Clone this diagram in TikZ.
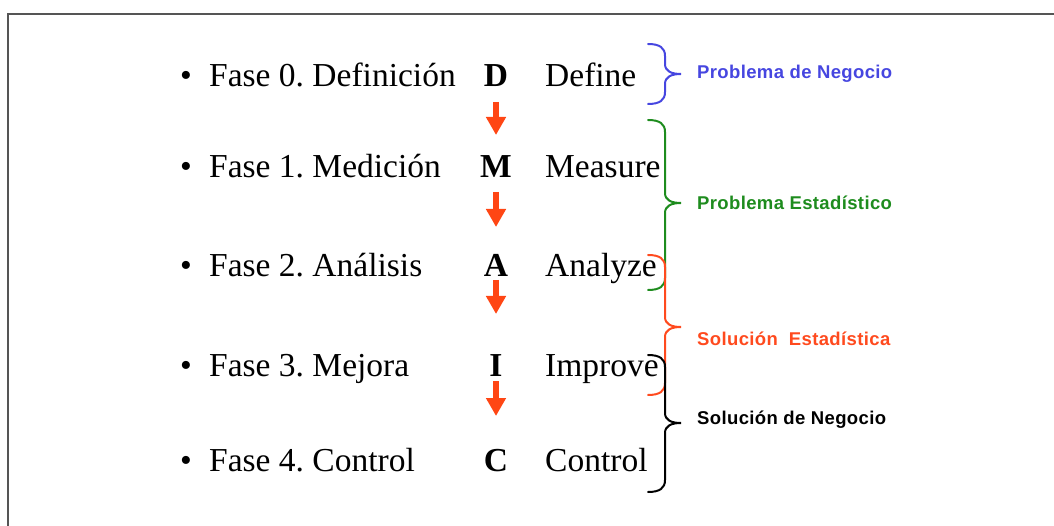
\documentclass[tikz,border=0pt]{standalone}
\usepackage{fontspec}
\setmainfont{Liberation Serif}
\newfontfamily\labelfont[LetterSpace=2]{Liberation Sans}
\usetikzlibrary{arrows.meta}
\definecolor{frameGray}{HTML}{555555}
\definecolor{arrowRed}{HTML}{FF4614}
\definecolor{negBlue}{HTML}{4646E0}
\definecolor{estGreen}{HTML}{1E8C1E}
\definecolor{solOrange}{HTML}{FF4A1E}
% right curly brace: colour, top, tip, bottom
\newcommand\phasebrace[4]{%
  \draw[brace,#1] (648,#2) .. controls (660,#2) and (665,#2+4) .. (665,#2+12)
    -- (665,#3-10) .. controls (665,#3-3) and (671,#3) .. (681,#3)
    .. controls (671,#3) and (665,#3+3) .. (665,#3+10)
    -- (665,#4-12) .. controls (665,#4-4) and (660,#4) .. (648,#4);}
\frenchspacing
\begin{document}
\begin{tikzpicture}[x=1bp,y=-1bp,
  phase/.style={anchor=base west,inner sep=0pt,font=\fontsize{33.5bp}{36bp}\selectfont},
  letter/.style={anchor=base,inner sep=0pt,font=\fontsize{33.5bp}{36bp}\selectfont\bfseries},
  dot/.style={anchor=base,inner sep=0pt,font=\fontsize{33.5bp}{36bp}\selectfont},
  flow/.style={arrowRed,line width=5.5bp,-{Triangle[width=19bp,length=18bp]}},
  brace/.style={line width=2bp,line cap=round},
  tag/.style={anchor=west,inner sep=0pt,font=\labelfont\bfseries\fontsize{18.5bp}{21bp}\selectfont}]
  \useasboundingbox (0,0) rectangle (1054,526);
  % open frame
  \draw[frameGray,line width=2bp] (8,526) -- (8,14) -- (1054,14);

  % rows: bullet, phase name, letter, English term
  \foreach \i/\y/\ph/\lt/\en in {0/87/{Fase 0. Definición}/D/Define,
                                 1/178/{Fase 1. Medición}/M/Measure,
                                 2/277/{Fase 2. Análisis}/A/Analyze,
                                 3/377/{Fase 3. Mejora}/I/Improve,
                                 4/471/{Fase 4. Control}/C/Control}{
    \node[dot] (b\i) at (186,\y) {•};
    \node[phase] (p\i) at (209,\y) {\ph};
    \node[letter] (l\i) at (496,\y) {\lt};
    \node[phase] (e\i) at (545,\y) {\en};
  }

  % arrows between letters
  \coordinate (s0) at (496,102); \coordinate (t0) at (496,135);
  \coordinate (s1) at (496,192); \coordinate (t1) at (496,227);
  \coordinate (s2) at (496,280); \coordinate (t2) at (496,314);
  \coordinate (s3) at (496,381); \coordinate (t3) at (496,416);
  \foreach \k in {0,...,3}{\draw[flow] (s\k) -- (t\k);}

  % braces grouping the phases
  \phasebrace{negBlue}{44}{74}{104}
  \phasebrace{estGreen}{120}{203}{290}
  \phasebrace{solOrange}{255}{327}{395}
  \phasebrace{black}{355}{423}{492}

  \node[tag,negBlue] (t-neg) at (697,74) {Problema de Negocio};
  \node[tag,estGreen] (t-est) at (697,203) {Problema Estadístico};
  \node[tag,solOrange] (t-sol) at (697,339) {Solución\ \ Estadística};
  \node[tag,black] (t-solneg) at (697,420) {Solución de Negocio};
\end{tikzpicture}
\end{document}
